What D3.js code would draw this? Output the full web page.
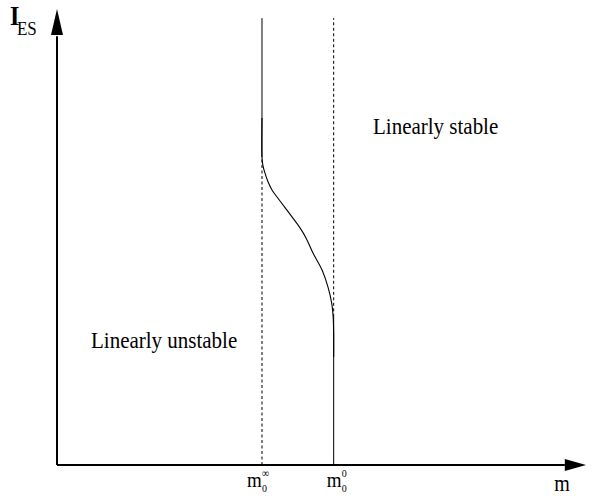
<!DOCTYPE html>
<html>
<head>
<meta charset="utf-8">
<script src="https://cdn.jsdelivr.net/npm/d3@7"></script>
<style>
  body { margin: 0; background: #fff; }
  text { font-family: "Liberation Serif", "Times New Roman", serif; fill: #000; }
</style>
</head>
<body>
<div id="container"></div>
<script>
// stability boundary, in chart units (m on x, I_ES on y, both 0..100)
var mInf = 38.75;
var mZero = 52.3;
var lineTop = 98;
var boundaryM = [38.75, 38.75, 38.94, 39.32, 39.89, 40.64, 42.16, 44.42, 45.94, 47.07, 48.39, 50.09, 51.23, 51.93, 52.2, 52.3, 52.3];
var boundaryI = [76.1, 67.5, 65.6, 64.0, 62.1, 60.3, 57.9, 54.4, 52.0, 49.8, 46.5, 42.8, 39.0, 35.5, 32.5, 28.9, 23.7];
var regionLabels = ["Linearly stable", "Linearly unstable"];

const width = 611, height = 497;
const margin = { left: 57, right: 25, top: 9, bottom: 32 };

var x = d3.scaleLinear().domain([0, 100]).range([margin.left, width - margin.right]);
var y = d3.scaleLinear().domain([0, 100]).range([height - margin.bottom, margin.top]);

const svg = d3.select("#container")
  .append("svg")
  .attr("width", width)
  .attr("height", height);

// text in the original is stretched a little vertically
function label(txt, px, py, size) {
  return svg.append("text")
    .attr("transform", `translate(${px} ${py}) scale(1 1.14)`)
    .style("font-size", size + "px")
    .text(txt);
}

// axes with arrow heads
var x0 = x(0), y0 = y(0);
svg.append("line")
  .attr("x1", x0).attr("y1", y0).attr("x2", x(96)).attr("y2", y0)
  .style("stroke", "#000").style("stroke-width", 2);
svg.append("line")
  .attr("x1", x0).attr("y1", y0).attr("x2", x0).attr("y2", y(94))
  .style("stroke", "#000").style("stroke-width", 2);
svg.append("path")
  .attr("d", `M${x(100)},${y0}L${x(96)},${y0 - 6}L${x(96)},${y0 + 6}Z`)
  .style("fill", "#000");
svg.append("path")
  .attr("d", `M${x0},${y(100)}L${x0 - 6},${y(94.3)}L${x0 + 6},${y(94.3)}Z`)
  .style("fill", "#000");

// vertical guides
var startI = boundaryI[1];
var endI = boundaryI[boundaryI.length - 3];
svg.append("line")
  .attr("x1", x(mInf)).attr("x2", x(mInf)).attr("y1", y(0)).attr("y2", y(startI))
  .style("stroke", "#000").style("stroke-width", 1).style("stroke-dasharray", "3,2.5");
svg.append("line")
  .attr("x1", x(mInf)).attr("x2", x(mInf)).attr("y1", y(startI)).attr("y2", y(lineTop))
  .style("stroke", "#000").style("stroke-width", 1);
svg.append("line")
  .attr("x1", x(mZero)).attr("x2", x(mZero)).attr("y1", y(endI)).attr("y2", y(lineTop))
  .style("stroke", "#000").style("stroke-width", 1).style("stroke-dasharray", "3,2.5");
svg.append("line")
  .attr("x1", x(mZero)).attr("x2", x(mZero)).attr("y1", y(0)).attr("y2", y(endI))
  .style("stroke", "#000").style("stroke-width", 1);

// boundary curve
var pts = boundaryM.map(function (m, i) { return [m, boundaryI[i]]; });
svg.append("path")
  .datum(pts)
  .attr("d", d3.line()
    .x(function (d) { return x(d[0]); })
    .y(function (d) { return y(d[1]); })
    .curve(d3.curveCatmullRom))
  .style("fill", "none")
  .style("stroke", "#000")
  .style("stroke-width", 1.1);

// region labels
label(regionLabels[0], 373, 134, 21);
label(regionLabels[1], 91, 348, 21);

// axis names
var yl = svg.append("text")
  .attr("transform", "translate(10 25) scale(1 1.14)");
yl.append("tspan").style("font-size", "24px").style("font-weight", "bold").text("I");
yl.append("tspan").attr("x", 7).attr("y", 8.5).style("font-size", "17px").text("ES");
label("m", x(94), 491, 20);

// tick labels on m axis
function mLabel(px, sup) {
  var g = svg.append("g").attr("transform", `translate(${px} 487) scale(1 1.14)`);
  g.append("text").attr("x", -15).style("font-size", "19px").text("m");
  g.append("text").attr("x", 0).attr("y", -9).style("font-size", "10px").text(sup);
  g.append("text").attr("x", 0).attr("y", 4).style("font-size", "10px").text("0");
}
mLabel(x(mInf), "\u221e");
mLabel(x(mZero) + 8, "0");
</script>
</body>
</html>
